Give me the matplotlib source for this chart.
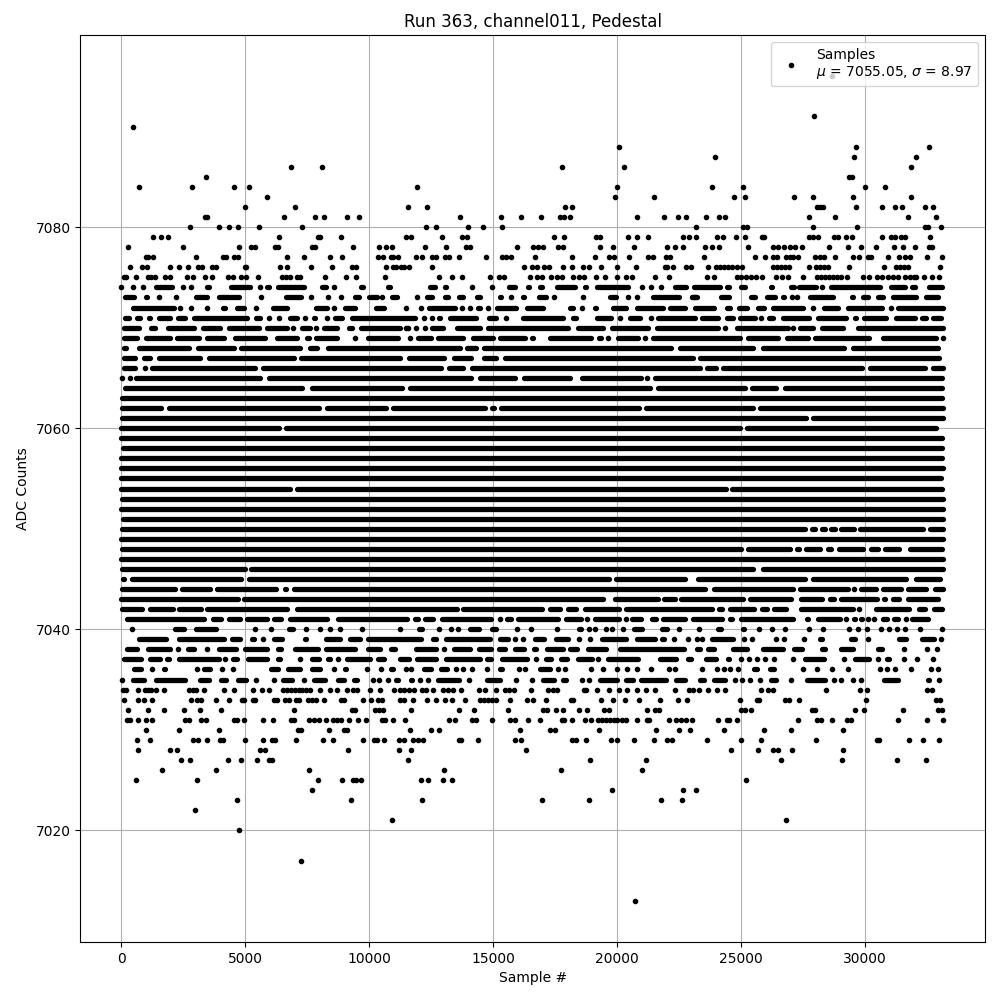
import matplotlib
matplotlib.use("Agg")
import matplotlib.pyplot as plt

# sample numbers, one list per ADC level
# a plain number is one dot, a tuple is a stretch of touching dots (outer edges)
adc_7095 = [28670]
adc_7091 = [27940]
adc_7090 = [470]
adc_7088 = [20080, 29640, 32580]
adc_7087 = [23950, 29560, 32060]
adc_7086 = [6840, 8090, 17780, 20280, 31850]
adc_7085 = [3410, 29350, 29450]
adc_7084 = [710, 2850, 4540, 5150, 11940, 20000, 23830, 25080, 30000, 30810]
adc_7083 = [5870, 19920, 21490, 24720, 25160, 27140, 27900, 29520, 31850]
adc_7082 = [4990, 7000, 11570, 12340, 17900, 18190, 28060, 28190, 28310, 29640, 30690, 31210, 31490, 32420, 32740]
adc_7081 = [3360, 3440, 6560, 7810, 8170, 9100, 9580, 13670, 15320, 16130, 16940, 17690, 17860, 18090, 20810,
            21890, 22460, 22780, 23590, 24110, 24350, 27740, 28790, 31730, 32860]
adc_7080 = [2770, 3940, 4340, 4700, 5550, 7280, 12300, 12700, 13990, 14600, 15360, 23190, 25080, 25240, 27900,
            29680, 32420, 32530, 33060]
adc_7079 = [1280, 1600, 1880, 6360, 7920, 8000, 8860, 11465, 11667, 12940, 13750, 13950, 17460, 17860, 19150,
            19310, 20440, 20810, 21250, 22660, 22900, 23190, 24030, 24270, 24800, 25160, 25850, 25930, 27740,
            27900, 28100, 28750, 28910, 29230, 29480, 30690, 31050, 31210, 31450, 31610, 32620]
adc_7078 = [270, 2490, 4740, 5230, 5390, 6200, 6300, 7700, 7810, 9340, 10390, 10670, 10910, 12260, 13100, 13910,
            14070, 15970, 16610, 16810, 17020, 17620, 17820, 19310, 19840, 20690, 22010, 22340, 22660, 23550,
            23830, 24110, 25280, 26290, 26490, 26730, 26980, 27180, 27460, 28550, 29310, 29840, 30440, 31170,
            31530, 32000, 32580, 32700]
adc_7077 = [980, 1090, 1280, 3010, 4100, 4230, 4540, 4700, 6690, 7370, 8410, 8900, 10350, 10550, 10890, 10950,
            11160, 11860, 12140, 12540, 12700, 13060, 13230, 13630, 14720, 15360, 15520, 15730, 16690, 18190,
            19110, 19680, 19880, 20480, 21250, 21450, 21980, 22140, 23510, 25560, 25970, 26290, 26450, 26810,
            26950, 27100, 27280, 27980, 28160, 28350, 28790, 29520, 29760, 30120, 30240, 30930, 31370, 31590,
            31810, 32500, 33100]
adc_7076 = [350, 830, 1030, 1960, 2330, 2690, 3090, 3230, 3660, 3830, 4970, 5040, 6400, 6690, 7650, 8490, 9300,
            9450, 10670, 10950, 11060, 11290, 11380, 11610, 12540, 16250, 16570, 16770, 17060, 17260, 17820,
            18190, 18630, 18870, 19350, 20000, 20770, 21930, 22010, 22260, 22780, 22980, 23670, 23990, 24150,
            24320, 24480, 24640, 24840, 25040, 26290, 26450, 26620, 26780, 26940, 27740, 28020, 28190, 28350,
            28510, 29350, 30770, 31250, 31410, 31570, 31730, 33020]
adc_7075 = [90, 200, 590, 1080, 1210, 1360, 1760, 1960, 2650, 2890, 3370, 3660, 4300, 4500, 4840, 5010, 5510,
            6490, 6650, 6810, 7080, 7220, 8210, 9060, 9460, 10630, 12820, 13350, 13750, 14880, 15240, 15440,
            16490, 16770, 16980, 17340, 17580, 17780, 18230, 18470, 18670, 19150, 19520, 20000, 20360, 20600,
            21530, 22100, 23630, 23900, 24840, 25000, 25200, 25400, 25600, 25850, 26410, 26650, 26900, 27500,
            28060, 28220, 28380, 28550, 28710, 28870, 29030, 29270, 29920, 30160, 30480, 30690, 30930, 31130,
            31330, 31610, 31810, 31950, 32060, 32380, 32700, 32980]
adc_7074 = [0, 470, 870, (1280, 2150), 2490, 2820, (3360, 3630), (3860, 4100), (4300, 5310), 5580, (5780, 6050),
            (6210, 7460), (7970, 8370), 8570, (9540, 9850), (10660, 10950), (12340, 12740), (12940, 13190),
            (14050, 14260), 14930, (15520, 15970), (16280, 16530), (16770, 17070), (17470, 18390), (18590, 18860),
            (19060, 20540), 21010, 21370, (21680, 21880), (22220, 22890), (23000, 24240), (24320, 24600),
            (24880, 25280), (26090, 26360), (26900, 27220), (27220, 28130), 28270, (28510, 30690), (30930, 31730),
            (31790, 32110), (32460, 33210)]
adc_7073 = [(40, 600), (870, 1140), 1520, (2150, 2280), (2890, 3560), (3830, 4840), 5640, (6520, 7350), (7570, 7750),
            8330, 8870, (9310, 9680), (9880, 10420), 10520, (10790, 11220), 11940, (12210, 12650), (12940, 13280),
            (13510, 13880), (14220, 14560), (15160, 15430), 15700, (16080, 16330), (16730, 17220), 17450, 18630,
            (19020, 19260), (19600, 20070), (20340, 20540), 20780, (21320, 22590), (22920, 23290), (22890, 23320),
            (24070, 24610), (25280, 25650), (25910, 26450), (26590, 26850), 27050, 27260, (27660, 28800),
            (29340, 29610), (29810, 30210), (30420, 30820), (31020, 32160), (32360, 33040)]
adc_7072 = [(360, 2220), 2380, 2820, 3450, (3990, 4300), (4570, 5040), (5310, 5510), (6010, 6790), (7730, 8400), 8570,
            (8900, 9540), (10150, 10680), 11490, 12070, (12300, 13550), 13750, 14050, (14290, 14560), 14800,
            (15030, 16030), (16240, 17110), (17650, 17880), (17980, 18320), 18590, (18990, 19260), (19730, 20470),
            (20670, 21950), (22010, 22820), (23020, 23990), (24300, 24640), (24800, 25340), (25550, 26010),
            (26180, 27590), 27900, (28240, 29000), (29210, 30790), 31050, (31220, 33240)]
adc_7071 = [(40, 400), (500, 870), (1010, 1280), (1410, 2080), (2170, 2690), (2820, 5170), (5310, 5710), 5950, 6360,
            (6680, 7190), 7390, (7660, 7930), (8200, 8400), (8510, 9000), (9180, 11940), 12210, 12540, (12700, 12940),
            (13150, 14420), (14720, 15230), 15500, (16100, 17920), (18120, 18450), (19060, 19870), 20090,
            (20400, 21010), 21340, (21550, 23230), (23300, 24170), (24300, 24770), (24840, 25650), 25780,
            (26010, 26380), (26590, 27860), (28000, 29340), (29480, 29740), (29850, 30950), (31120, 32100),
            (32160, 32570), (32630, 33170)]
adc_7070 = [(0, 810), (1080, 1480), (1750, 3020), (3160, 4100), (4230, 5640), (5780, 6790), 6920, (7160, 7730), 7860,
            (8060, 8800), (9070, 9410), (9540, 11360), 11490, 11570, 11870, (12140, 12340), (12410, 13080),
            (13410, 14560), (14660, 18120), (18320, 19530), (19660, 21340), (21480, 24170), 24330, (24700, 26990),
            27100, (27260, 28020), (28130, 29210), (29610, 33240)]
adc_7069 = [(0, 740), (870, 2080), (2150, 3230), (3360, 4230), (4470, 5910), (6170, 7190), (7390, 7660), (7750, 8800),
            9410, (9850, 11270), (11540, 11740), (11870, 12610), (12650, 13880), (14050, 15090), (15160, 16370),
            (16440, 16710), (16840, 17080), (17180, 19060), (19150, 19460), 19640, (19930, 20940), 21120,
            (21340, 25040), (25150, 26590), (26720, 27800), (27860, 30280), (30590, 32970), 33140]
adc_7068 = [(0, 310), (580, 2820), (2990, 4630), (4700, 7330), (7490, 8000), (8240, 13750), (13840, 14420),
            (14530, 22280), (22420, 25580), (25780, 29270), (29410, 33040)]
adc_7067 = [(0, 670), (810, 1280), (1410, 3290), (3430, 7060), (7120, 11360), (11500, 13120), (13320, 14220),
            (14530, 15230), (15360, 23160), (23230, 33100)]
adc_7066 = [(0, 670), 940, (1110, 5510), (5600, 13010), (13110, 13880), (14020, 23430), (23500, 24100),
            (24170, 29970), (30070, 32500), (32630, 33240)]
adc_7065 = [40, 340, (470, 5680), (5830, 14220), (14360, 15970), (16140, 18210), (18450, 21070), 21210, (21410, 33210)]
adc_7064 = [(40, 7390), (7590, 11440), (11540, 21410), (21550, 25240), (25310, 26520), (26650, 33210)]
adc_7063 = [(-90, 33210)]
adc_7062 = [(-70, 1710), (1790, 8090), (8170, 10780), (10860, 14770), (14830, 15130), (15190, 20970), (21050, 25570),
            (25630, 33240)]
adc_7061 = [(-70, 27730), (27780, 33240)]
adc_7060 = [(-110, 6460), (6520, 25070), (25130, 32970)]
adc_7059 = [(-110, 33210)]
adc_7058 = [(-30, 33210)]
adc_7057 = [(-110, 33210)]
adc_7056 = [(-110, 33240)]
adc_7055 = [(-130, 33180)]
adc_7054 = [(-110, 6900), (6960, 24480), (24530, 33210)]
adc_7053 = [(-90, 33240)]
adc_7052 = [(-130, 33240)]
adc_7051 = [(-30, 33240)]
adc_7050 = [(-70, 27700), (27730, 28100), (28130, 28470), (28520, 28890), (28930, 29650), (29690, 32430), (32500, 33240)]
adc_7049 = [(-110, 33240)]
adc_7048 = [(-70, 25100), (25170, 27080), (27140, 27430), (27500, 28290), (28370, 28740), (28830, 30010),
            (30140, 30630), (30680, 31490), (31690, 33210)]
adc_7047 = [(-110, 33240)]
adc_7046 = [(-70, 5090), (5130, 25600), (25750, 33240)]
adc_7045 = [(-40, 230), (310, 4930), (5020, 19770), (19830, 22820), (22860, 23090), (23160, 27700), (27770, 31760),
            (31940, 33130)]
adc_7044 = [(-70, 2280), (2350, 3670), (3740, 6360), (6480, 6750), (6830, 23660), (23790, 27190), (27260, 29420),
            29560, (29700, 30550), (30590, 31560), (31630, 32570), (32700, 33240)]
adc_7043 = [(-110, 4800), (4850, 19530), (19800, 21750), (21790, 22420), (22460, 25170), (25240, 27120), (27280, 28370),
            (28480, 28830), (28910, 30590), (30630, 30910), (31000, 31490), (31630, 33040)]
adc_7042 = [(-70, 940), (1050, 2190), (2220, 3320), (3360, 6790), (6990, 13640), (13680, 17080), (17180, 17780),
            (17890, 18450), (18590, 20170), (20230, 23940), (23990, 24330), (24440, 25620), (25710, 26140),
            (26200, 26900), (26920, 27160), (27300, 29610), (29640, 29850), (30310, 31870), (32060, 32500),
            (32660, 33210)]
adc_7041 = [(130, 3430), (3600, 4130), (4210, 4910), (4970, 5980), (6060, 6550), (6680, 8400), (8640, 11640),
            (11730, 12070), (12140, 12670), (12810, 15030), (15160, 15340), (15430, 15830), (15900, 17710),
            (17810, 18660), (18700, 18880), (19000, 20170), (20230, 20440), (20470, 21070), (21300, 21680),
            (21750, 22820), (22960, 24330), (24440, 24740), (24880, 27190), (27530, 27800), (28000, 29100),
            (29140, 29340), (29450, 29680), (29700, 29990), (30010, 30210), (30260, 30470), (30590, 30990),
            (31050, 31440), (31520, 31730), (31760, 32630), (32700, 32930)]
adc_7040 = [430, (2040, 2650), (2890, 3940), (4620, 4870), 5390, 6030, (6280, 6520), (6640, 7040), 7450, 8010,
            (8330, 8530), 8820, (9100, 9340), 9700, (10230, 10470), 11240, (11900, 12220), (12700, 12900), 13310,
            13590, (13950, 14520), (14840, 15200), (15890, 16050), 16530, 17580, (18350, 18630), 18870, 19110, 19560,
            19800, 20240, (20560, 21090), (21690, 22100), 22490, (23190, 23390), (23950, 24310), (24960, 25200),
            25730, 26250, 26770, 27740, (28190, 28390), 29350, 29720, (29960, 30160), 30640, 30970, 31290, 31610,
            32220, 33100]
adc_7039 = [(70, 310), (590, 1920), (2200, 4230), (4340, 4910), (5150, 5470), 5710, (6030, 6600), (6720, 6960),
            (7280, 7570), (8130, 8940), (9100, 9740), (9820, 12180), (12460, 12780), (12980, 14960), (15160, 15690),
            15890, 16210, (16570, 17140), (17420, 18140), 18470, (18790, 18990), (19270, 20480), (20690, 21610),
            (21690, 21980), 22300, 22860, 23230, (23310, 23510), (23710, 24760), (25040, 25160), (25360, 25520),
            26410, (26690, 26770), (27420, 27620), (28060, 28350), (29310, 29680), (30000, 30200), (31250, 31770),
            (32180, 32900), 33060]
adc_7038 = [(110, 750), (950, 2080), 2280, (2570, 3050), (3370, 3530), (3820, 4740), (4870, 5990), (6200, 6560),
            (6880, 8050), (8130, 9540), (9820, 10550), (10750, 11160), (11770, 12780), 13020, (13310, 14150),
            (14310, 15000), (15120, 15560), (15770, 16330), (16530, 16850), (17060, 17900), (17980, 18470),
            (18710, 19640), (20000, 22780), (23100, 23430), (23550, 23990), (24560, 25360), (25770, 26810),
            (27020, 27540), (28140, 28470), (28910, 29600), (29960, 30200), (30400, 30770), 31570, 32500, 32900]
adc_7037 = [(0, 910), (1030, 1680), (1720, 2040), (2200, 4030), 4180, (4380, 4780), (4990, 5990), (6200, 6520), 7190,
            (7570, 8090), (8210, 8530), 8740, (8980, 10150), (10230, 10710), (11110, 11690), (11810, 12780),
            (12980, 14560), (14640, 15000), (15240, 16450), 16730, (17020, 17420), (17620, 18100), (18310, 19070),
            19230, (19520, 20930), (21610, 22460), (22740, 23070), (23470, 24110), (24350, 24600), 25000, 25320,
            25650, 25970, (26250, 26410), (27020, 27180), (27460, 28430), (29030, 29230), (29480, 30280), 30520,
            (30770, 31050), 31570, (32000, 32140), (32660, 32820)]
adc_7036 = [(400, 910), 1240, (1600, 1880), (2450, 2690), (2970, 3090), (3210, 3700), 4060, 4500, (5150, 5390),
            (5910, 6440), (6600, 7330), (7570, 8130), 8570, (8900, 9180), 9900, (10390, 10550), (10750, 11070), 11480,
            11690, (12100, 12580), (12780, 13230), 13510, 13790, 14150, 14760, (15160, 15440), 16050, 16290,
            (16770, 17380), 17620, 17900, (18870, 19030), (19310, 19520), (19880, 20080), 20400, (20730, 20890), 21370,
            22100, 22340, (23310, 23510), 24030, 24310, 24560, (24800, 24960), (25400, 25730), (26050, 26410),
            (27380, 27580), 28060, 28670, 29310, 30600, 30890, 31210, 31850, 32660, 32940]
adc_7035 = [30, (360, 1030), (1280, 2690), (3050, 3630), (3900, 4340), (4580, 5150), (5310, 5510), (6070, 6200),
            (6400, 7000), 7370, (7650, 8330), (8610, 9100), (9260, 9610), 10150, 10390, 10750, (10950, 11250),
            (11570, 11810), (11970, 12140), 12380, (12660, 13710), (13950, 14070), (14640, 15360), 15930, 16570,
            (16900, 17540), (17700, 18060), (18470, 18670), 18870, (19190, 20080), (20240, 20730), (20850, 22060),
            (22260, 22860), (23230, 23590), (23790, 24440), (24640, 24840), 25040, 25360, 25770, (26090, 26530), 27020,
            (27540, 28470), 28750, 29030, (29390, 29600), 29840, (30640, 31450), (32420, 32700), 32980]
adc_7034 = [70, 170, 670, 950, 1080, 1200, 1400, 1720, 2730, 2890, 3020, 3330, 4140, 4540, 5310, 5670, 5950, 6520,
            6680, 6840, 7000, 7160, 7300, 7430, 7590, 8010, 8410, 8700, 9100, 9340, 9500, 10030, 10430, 10990, 11240,
            11400, 11600, 11800, 12140, 12300, 12580, 12980, 13190, 13390, 13710, 14440, 14680, 15120, 15480, 15650,
            15850, 16530, 17220, 17400, 17580, 18670, 18750, 19190, 19680, 20080, 20400, 20810, 21170, 21530, 22340,
            22900, 23070, 23310, 23670, 24030, 24350, 25810, 26090, 26290, 28430, 29800, 30080, 32500, 32700]
adc_7033 = [110, 670, 910, 1240, 2810, 3050, 3210, 3820, 4340, 4870, 4950, 5310, 5390, 6160, 6280, 6600, 6760, 7040,
            7160, 7530, 7690, 7850, 8170, 8860, 8980, 9740, 10070, 10350, 10510, 11240, 11400, 11770, 12340, 12700,
            13060, 13350, 13870, 14480, 14640, 14800, 14960, 15110, 15690, 16370, 16610, 17140, 18140, 18230, 19350,
            19840, 20320, 20890, 21730, 22460, 22820, 24960, 25650, 25730, 26770, 26940, 27340, 30040, 32860, 33020]
adc_7032 = [270, 1080, 1720, 2530, 3170, 4020, 6960, 9300, 9420, 10230, 10390, 10550, 11690, 13630, 14230, 15600, 17020,
            17180, 17540, 17820, 18470, 18790, 19480, 19680, 21210, 21530, 21700, 25000, 25160, 25400, 27860, 27980,
            29600, 29960, 31530, 32940, 33100]
adc_7031 = [230, 340, 670, 990, 1240, 2570, 2730, 3210, 3410, 4540, 4660, 4950, 5710, 6120, 6840, 6960, 7570, 7770,
            7970, 8250, 8530, 8700, 8860, 9180, 9540, 9860, 10510, 10630, 10970, 11450, 13230, 13470, 14150, 14310,
            14960, 15690, 15890, 16410, 16900, 17780, 17860, 18190, 18710, 18950, 19230, 19400, 19560, 19720, 19880,
            20000, 20200, 20360, 20810, 21210, 21290, 22100, 22380, 22580, 22780, 23020, 24070, 24440, 24520, 24840,
            27300, 28060, 28230, 28670, 29270, 29440, 31330, 32500, 33140]
adc_7030 = [990, 2330, 3940, 7120, 7240, 8370, 8980, 9100, 11650, 12500, 12820, 16090, 17300, 17500, 19270, 21580,
            22500, 22940, 24310, 25930, 27020, 29110]
adc_7029 = [630, 1160, 2890, 3090, 3450, 3980, 4100, 4990, 5710, 6070, 6200, 7040, 8130, 8530, 9740, 10190, 10310,
            10590, 11200, 11380, 11770, 11970, 12180, 13630, 13710, 14400, 15890, 16130, 18190, 18350, 18750, 19760,
            20000, 20690, 21490, 22020, 22220, 23630, 25000, 25810, 28020, 30480, 30550, 31770, 32340, 32980]
adc_7028 = [670, 1960, 2240, 5590, 5790, 9140, 11200, 11690, 16330, 24600, 25690, 26290, 26490, 27060, 29110]
adc_7027 = [2410, 2770, 4300, 4820, 5470, 5950, 6070, 11570, 18910, 21170, 26610, 29070, 31290, 32460]
adc_7026 = [1640, 3820, 7570, 13020, 17740, 21010]
adc_7025 = [590, 3050, 7930, 8900, 9340, 9450, 9660, 12100, 12380, 12980, 13350, 25200]
adc_7024 = [7690, 19800, 22660, 23190]
adc_7023 = [4660, 9260, 12140, 16980, 18870, 21770, 22620]
adc_7022 = [2970]
adc_7021 = [10910, 26810]
adc_7020 = [4740]
adc_7017 = [7240]
adc_7013 = [20730]

levels = {
    7095: adc_7095, 7091: adc_7091, 7090: adc_7090, 7088: adc_7088, 7087: adc_7087, 7086: adc_7086, 7085: adc_7085,
    7084: adc_7084, 7083: adc_7083, 7082: adc_7082, 7081: adc_7081, 7080: adc_7080, 7079: adc_7079, 7078: adc_7078,
    7077: adc_7077, 7076: adc_7076, 7075: adc_7075, 7074: adc_7074, 7073: adc_7073, 7072: adc_7072, 7071: adc_7071,
    7070: adc_7070, 7069: adc_7069, 7068: adc_7068, 7067: adc_7067, 7066: adc_7066, 7065: adc_7065, 7064: adc_7064,
    7063: adc_7063, 7062: adc_7062, 7061: adc_7061, 7060: adc_7060, 7059: adc_7059, 7058: adc_7058, 7057: adc_7057,
    7056: adc_7056, 7055: adc_7055, 7054: adc_7054, 7053: adc_7053, 7052: adc_7052, 7051: adc_7051, 7050: adc_7050,
    7049: adc_7049, 7048: adc_7048, 7047: adc_7047, 7046: adc_7046, 7045: adc_7045, 7044: adc_7044, 7043: adc_7043,
    7042: adc_7042, 7041: adc_7041, 7040: adc_7040, 7039: adc_7039, 7038: adc_7038, 7037: adc_7037, 7036: adc_7036,
    7035: adc_7035, 7034: adc_7034, 7033: adc_7033, 7032: adc_7032, 7031: adc_7031, 7030: adc_7030, 7029: adc_7029,
    7028: adc_7028, 7027: adc_7027, 7026: adc_7026, 7025: adc_7025, 7024: adc_7024, 7023: adc_7023, 7022: adc_7022,
    7021: adc_7021, 7020: adc_7020, 7017: adc_7017, 7013: adc_7013,
}

mu = 7055.05
sigma = 8.97
dot_radius = 110  # half a dot in sample units, a stretch was read by its outer edges

dot_x, dot_y = [], []
run_y, run_start, run_end = [], [], []
for level, samples in levels.items():
    for s in samples:
        if isinstance(s, tuple):
            if s[1] - s[0] <= 2 * dot_radius:
                dot_x.append((s[0] + s[1]) / 2)
                dot_y.append(level)
            else:
                run_y.append(level)
                run_start.append(s[0] + dot_radius)
                run_end.append(s[1] - dot_radius)
        else:
            dot_x.append(s)
            dot_y.append(level)

fig, ax = plt.subplots(figsize=(10, 10), dpi=100)
ax.plot(dot_x, dot_y, "k.", label=f"Samples\n$\\mu$ = {mu:.2f}, $\\sigma$ = {sigma:.2f}")
ax.hlines(run_y, run_start, run_end, colors="k", linewidth=3.8, capstyle="round", zorder=2)

ax.set_xlim(-1660, 34830)
ax.set_ylim(7008.9, 7099.1)
ax.set_yticks([7020, 7040, 7060, 7080])
ax.ticklabel_format(useOffset=False, style="plain")
ax.set_title("Run 363, channel011, Pedestal")
ax.set_xlabel("Sample #")
ax.set_ylabel("ADC Counts")
ax.grid(True)
ax.legend(loc="upper right")

fig.subplots_adjust(left=0.0803, right=0.985, top=0.965, bottom=0.058)
fig.savefig("out.png", dpi=100)
